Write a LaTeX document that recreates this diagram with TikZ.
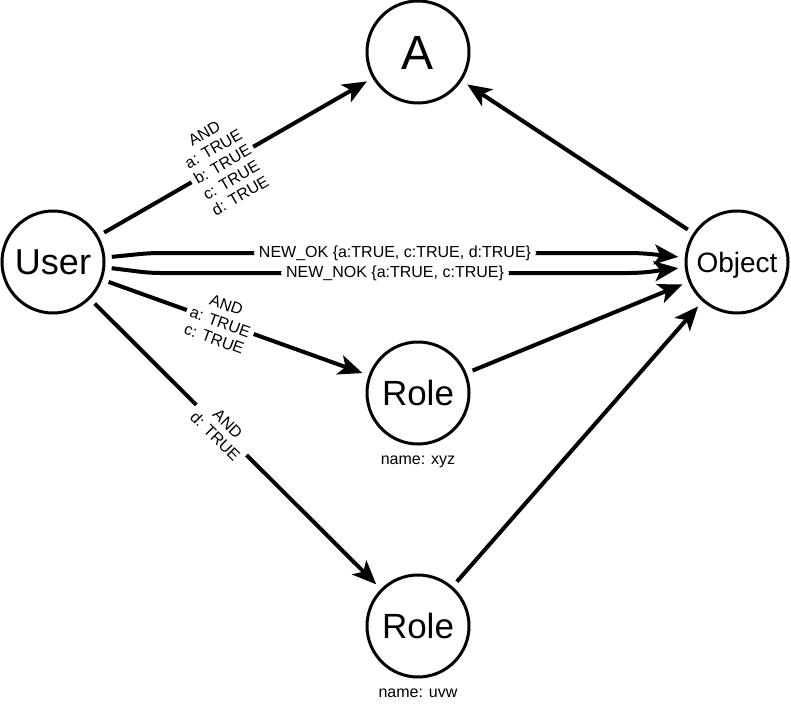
\documentclass[tikz,border=0pt]{standalone}
\usepackage{fontspec}
\setmainfont{Liberation Sans}
\usetikzlibrary{positioning,arrows.meta}

\tikzset{
    ent/.style={circle, draw, line width=3pt, minimum size=102pt, inner sep=0pt, outer sep=8pt, text depth=0pt},
    lnk/.style={-{Stealth[length=24pt, width=20pt, inset=6pt]}, line width=4pt},
    cond/.style={sloped, fill=white, align=center, inner sep=4pt, font=\fontsize{16}{18}\selectfont},
    flow/.style={fill=white, inner xsep=5pt, inner ysep=1pt, font=\fontsize{16}{18}\selectfont},
    tag/.style={inner sep=0pt, text height=9pt, text depth=3pt, font=\fontsize{16}{18}\selectfont}
}

\begin{document}
\begin{tikzpicture}[x=1pt, y=-1pt]

\useasboundingbox (0,0) rectangle (791,703);

% Entities
\node[ent, text height=25.8pt, font=\fontsize{36}{40}\selectfont] (user) at (53,262) {User};
\node[ent, text height=34.4pt, font=\fontsize{48}{52}\selectfont] (a) at (418,52) {A};
\node[ent, text height=20pt, font=\fontsize{28}{32}\selectfont] (obj) at (737,262) {Object};

% Roles
\node[ent, text height=25pt, font=\fontsize{35}{38}\selectfont] (roleX) at (418,393) {Role};
\node[tag, below=3pt of roleX] (nameX) {name: xyz};
\node[ent, text height=25pt, font=\fontsize{35}{38}\selectfont] (roleU) at (418,626) {Role};
\node[tag, below=3pt of roleU] (nameU) {name: uvw};

% User to A
\draw[lnk] (user) -- (a) node[cond, pos=0.45] {AND\\a: TRUE\\b: TRUE\\c: TRUE\\d: TRUE};

% Object to A
\draw[lnk] (obj) -- (a);

% User to Object
\coordinate (okL) at (150,253);
\coordinate (okR) at (640,253);
\coordinate (nokL) at (150,273);
\coordinate (nokR) at (640,273);
\draw[lnk, rounded corners=10pt] (user.5) -- (okL) -- (okR) node[flow, midway] {NEW\_OK \{a:TRUE, c:TRUE, d:TRUE\}} -- (obj.175);
\draw[lnk, rounded corners=10pt] (user.-6) -- (nokL) -- (nokR) node[flow, midway] {NEW\_NOK \{a:TRUE, c:TRUE\}} -- (obj.186);

% User to roles
\draw[lnk] (user) -- (roleX) node[cond, pos=0.44] {AND\\a: TRUE\\c: TRUE};
\draw[lnk] (user) -- (roleU) node[cond, pos=0.45] {AND\\d: TRUE};

% Roles to Object
\draw[lnk] (roleX) -- (obj);
\draw[lnk] (roleU) -- (obj);

\end{tikzpicture}
\end{document}
